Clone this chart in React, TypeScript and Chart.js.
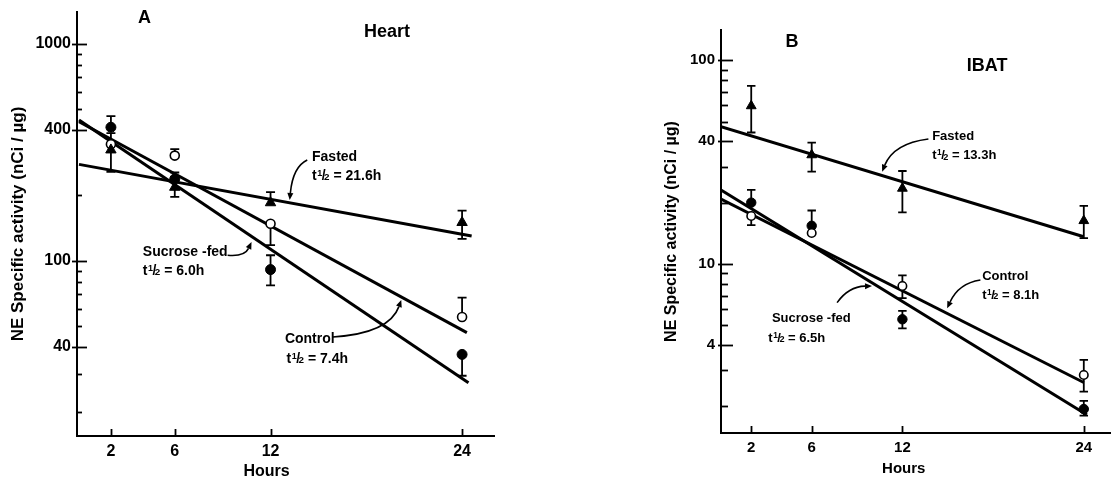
import React, { useEffect, useRef } from 'react';
import { Chart, registerables } from 'chart.js';

Chart.register(...registerables);

const FONT = '"Liberation Sans", Arial, Helvetica, sans-serif';

// ---------- shared ----------
const hours = [2, 6, 12, 24];
const xTickValues = [2, 6, 12, 24];

// ---------- Panel A: Heart ----------
const heartYTicks = [1000, 400, 100, 40];
const heartYMinor = [900, 800, 700, 600, 500, 200, 90, 80, 70, 60, 50, 30, 20];

const heartControl = [344, 305, 148, 55];
const heartControlHi = [387, 327, null, 67.6];
const heartControlLo = [null, null, 118, null];

const heartSucrose = [412, 238, 91, 37];
const heartSucroseHi = [464, 255, 106, null];
const heartSucroseLo = [null, null, 77, 29.5];

const heartFasted = [324, 218, 185, 150];
const heartFastedHi = [null, null, 207, 170];
const heartFastedLo = [257, 197, null, 126];

const heartFastedFitX = [0, 24.6];
const heartFastedFitY = [278, 130];
const heartControlFitX = [0, 24.3];
const heartControlFitY = [437, 46.6];
const heartSucroseFitX = [0, 24.4];
const heartSucroseFitY = [445, 27.4];

// ---------- Panel B: IBAT ----------
const ibatYTicks = [100, 40, 10, 4];
const ibatYMinor = [90, 80, 70, 60, 50, 30, 20, 9, 8, 7, 6, 5, 3, 2];

const ibatControl = [17.2, 14.2, 7.8, 2.85];
const ibatControlHi = [null, null, 8.8, 3.38];
const ibatControlLo = [15.5, null, 6.8, 2.36];

const ibatSucrose = [20, 15.4, 5.35, 1.94];
const ibatSucroseHi = [23.1, 18.3, 5.88, 2.13];
const ibatSucroseLo = [null, null, 4.83, 1.8];

const ibatFasted = [59.7, 34.3, 23.5, 16.3];
const ibatFastedHi = [74.8, 39.4, 28.6, 19.3];
const ibatFastedLo = [44.2, 28.4, 17.9, 13.4];

const ibatFastedFitX = [0, 24];
const ibatFastedFitY = [47.2, 13.6];
const ibatControlFitX = [0, 24];
const ibatControlFitY = [20.8, 2.62];
const ibatSucroseFitX = [0, 24.2];
const ibatSucroseFitY = [23.1, 1.82];

type Series = {
  values: number[];
  hi: (number | null)[];
  lo: (number | null)[];
  style: 'open' | 'filled' | 'tri';
  fitX: number[];
  fitY: number[];
};

type Note = { kind: 'text' | 'half' | 'title'; text: string; h: number; v: number };
type Arrow = { from: [number, number]; ctrl: [number, number]; to: [number, number] };

type PanelDef = {
  id: string;
  canvasLeft: number;
  canvasW: number;
  left: number;
  right: number;
  top: number;
  bottom: number;
  xMin: number;
  xMax: number;
  yMin: number;
  yMax: number;
  yTicks: number[];
  yMinor: number[];
  series: Series[];
  notes: Note[];
  arrows: Arrow[];
  hoursAt: number;
  tickFont: number;
  titleFont: number;
  titlePad: number;
  noteFont: number;
  headFont: number;
  majorOut: number;
  majorIn: number;
  minorIn: number;
  scale: number;
};

const heart: PanelDef = {
  id: 'A',
  canvasLeft: 0,
  canvasW: 560,
  left: 77,
  right: 494,
  top: 12,
  bottom: 436,
  xMin: -0.125,
  xMax: 26,
  yMin: 15.57,
  yMax: 1400,
  yTicks: heartYTicks,
  yMinor: heartYMinor,
  series: [
    { values: heartFasted, hi: heartFastedHi, lo: heartFastedLo, style: 'tri', fitX: heartFastedFitX, fitY: heartFastedFitY },
    { values: heartControl, hi: heartControlHi, lo: heartControlLo, style: 'open', fitX: heartControlFitX, fitY: heartControlFitY },
    { values: heartSucrose, hi: heartSucroseHi, lo: heartSucroseLo, style: 'filled', fitX: heartSucroseFitX, fitY: heartSucroseFitY },
  ],
  notes: [
    { kind: 'title', text: 'A', h: 4.1, v: 1313 },
    { kind: 'title', text: 'Heart', h: 19.3, v: 1132 },
    { kind: 'text', text: 'Fasted', h: 14.6, v: 300.6 },
    { kind: 'half', text: '= 21.6h', h: 14.6, v: 245.6 },
    { kind: 'text', text: 'Sucrose -fed', h: 4.0, v: 109.7 },
    { kind: 'half', text: '= 6.0h', h: 4.0, v: 89.7 },
    { kind: 'text', text: 'Control', h: 12.9, v: 43.6 },
    { kind: 'half', text: '= 7.4h', h: 13.0, v: 35.2 },
  ],
  arrows: [
    { from: [14.3, 291], ctrl: [13.4, 271], to: [13.2, 190.5] },
    { from: [9.31, 106], ctrl: [10.375, 104.3], to: [10.81, 121.9] },
    { from: [15.9, 44.5], ctrl: [19.44, 46.3], to: [20.19, 65.9] },
  ],
  hoursAt: 11.75,
  tickFont: 16,
  titleFont: 17,
  titlePad: 8,
  noteFont: 14,
  headFont: 18,
  majorOut: 5,
  majorIn: 10,
  minorIn: 5,
  scale: 1,
};

const ibat: PanelDef = {
  id: 'B',
  canvasLeft: 640,
  canvasW: 471,
  left: 81,
  right: 471,
  top: 30,
  bottom: 433,
  xMin: 0,
  xMax: 25.8,
  yMin: 1.48,
  yMax: 140.8,
  yTicks: ibatYTicks,
  yMinor: ibatYMinor,
  series: [
    { values: ibatFasted, hi: ibatFastedHi, lo: ibatFastedLo, style: 'tri', fitX: ibatFastedFitX, fitY: ibatFastedFitY },
    { values: ibatControl, hi: ibatControlHi, lo: ibatControlLo, style: 'open', fitX: ibatControlFitX, fitY: ibatControlFitY },
    { values: ibatSucrose, hi: ibatSucroseHi, lo: ibatSucroseLo, style: 'filled', fitX: ibatSucroseFitX, fitY: ibatSucroseFitY },
  ],
  notes: [
    { kind: 'title', text: 'B', h: 4.7, v: 123.4 },
    { kind: 'title', text: 'IBAT', h: 17.6, v: 94.1 },
    { kind: 'text', text: 'Fasted', h: 13.97, v: 42.2 },
    { kind: 'half', text: '= 13.3h', h: 13.97, v: 34.0 },
    { kind: 'text', text: 'Control', h: 17.28, v: 8.73 },
    { kind: 'half', text: '= 8.1h', h: 17.28, v: 7.04 },
    { kind: 'text', text: 'Sucrose -fed', h: 3.37, v: 5.41 },
    { kind: 'half', text: '= 6.5h', h: 3.13, v: 4.33 },
  ],
  arrows: [
    { from: [13.72, 41.1], ctrl: [11.42, 39.1], to: [10.66, 28.4] },
    { from: [17.16, 8.34], ctrl: [15.73, 8.04], to: [14.96, 6.06] },
    { from: [7.68, 6.46], ctrl: [8.44, 7.74], to: [9.99, 7.8] },
  ],
  hoursAt: 12.09,
  tickFont: 15,
  titleFont: 16,
  titlePad: 22,
  noteFont: 13,
  headFont: 18,
  majorOut: 3,
  majorIn: 12,
  minorIn: 7,
  scale: 0.94,
};

function font(size: number) {
  return `bold ${size}px ${FONT}`;
}

function drawHalf(ctx: CanvasRenderingContext2D, x: number, y: number, size: number, rest: string) {
  ctx.textAlign = 'left';
  ctx.textBaseline = 'middle';
  ctx.font = font(size);
  ctx.fillText('t', x, y);
  let cx = x + ctx.measureText('t').width + 0.5;
  const small = size * 0.64;
  ctx.font = font(small);
  ctx.fillText('1', cx, y - size * 0.2);
  cx += ctx.measureText('1').width - 0.5;
  ctx.font = font(size);
  ctx.fillText('/', cx, y);
  cx += ctx.measureText('/').width - 1.5;
  ctx.font = font(small * 1.1);
  ctx.fillText('2', cx, y + size * 0.1);
  cx += ctx.measureText('2').width;
  ctx.font = font(size);
  ctx.fillText(' ' + rest, cx, y);
}

function makePlugin(p: PanelDef) {
  return {
    id: 'decor' + p.id,
    beforeDatasetsDraw(chart: any) {
      const ctx = chart.ctx as CanvasRenderingContext2D;
      const xs = chart.scales.x;
      const ys = chart.scales.y;
      ctx.save();
      ctx.strokeStyle = '#000';
      ctx.lineWidth = 1.8;
      const cap = 4.5 * p.scale;
      for (const s of p.series) {
        s.values.forEach((v, i) => {
          const x = xs.getPixelForValue(hours[i]);
          const y0 = ys.getPixelForValue(v);
          for (const e of [s.hi[i], s.lo[i]]) {
            if (e == null) continue;
            const y1 = ys.getPixelForValue(e);
            ctx.beginPath();
            ctx.moveTo(x, y0);
            ctx.lineTo(x, y1);
            ctx.moveTo(x - cap, y1);
            ctx.lineTo(x + cap, y1);
            ctx.stroke();
          }
        });
      }
      ctx.restore();
    },
    afterDraw(chart: any) {
      const ctx = chart.ctx as CanvasRenderingContext2D;
      const xs = chart.scales.x;
      const ys = chart.scales.y;
      const area = chart.chartArea;
      ctx.save();
      ctx.strokeStyle = '#000';
      ctx.fillStyle = '#000';
      // y tick marks
      ctx.lineWidth = 1.8;
      for (const v of p.yTicks) {
        const y = Math.round(ys.getPixelForValue(v)) + 0.5;
        ctx.beginPath();
        ctx.moveTo(area.left - p.majorOut, y);
        ctx.lineTo(area.left + p.majorIn, y);
        ctx.stroke();
      }
      for (const v of p.yMinor) {
        const y = Math.round(ys.getPixelForValue(v)) + 0.5;
        ctx.beginPath();
        ctx.moveTo(area.left, y);
        ctx.lineTo(area.left + p.minorIn, y);
        ctx.stroke();
      }
      // x tick marks
      for (const h of xTickValues) {
        const x = Math.round(xs.getPixelForValue(h)) + 0.5;
        ctx.beginPath();
        ctx.moveTo(x, area.bottom);
        ctx.lineTo(x, area.bottom - 7);
        ctx.stroke();
      }
      // x axis title
      ctx.font = font(p.tickFont);
      ctx.textAlign = 'center';
      ctx.textBaseline = 'middle';
      ctx.fillText('Hours', xs.getPixelForValue(p.hoursAt), area.bottom + 36);
      // notes
      for (const n of p.notes) {
        const x = xs.getPixelForValue(n.h);
        const y = ys.getPixelForValue(n.v);
        if (n.kind === 'title') {
          ctx.font = font(p.headFont);
          ctx.textAlign = 'center';
          ctx.textBaseline = 'middle';
          ctx.fillText(n.text, x, y);
        } else if (n.kind === 'text') {
          ctx.font = font(p.noteFont);
          ctx.textAlign = 'left';
          ctx.textBaseline = 'middle';
          ctx.fillText(n.text, x, y);
        } else {
          drawHalf(ctx, x, y, p.noteFont, n.text);
        }
      }
      // arrows
      ctx.lineWidth = 1.6;
      for (const a of p.arrows) {
        const x0 = xs.getPixelForValue(a.from[0]);
        const y0 = ys.getPixelForValue(a.from[1]);
        const cx = xs.getPixelForValue(a.ctrl[0]);
        const cy = ys.getPixelForValue(a.ctrl[1]);
        const x1 = xs.getPixelForValue(a.to[0]);
        const y1 = ys.getPixelForValue(a.to[1]);
        const ang = Math.atan2(y1 - cy, x1 - cx);
        const L = 7;
        const W = 3;
        const bx = x1 - L * Math.cos(ang);
        const by = y1 - L * Math.sin(ang);
        ctx.beginPath();
        ctx.moveTo(x0, y0);
        ctx.quadraticCurveTo(cx, cy, bx, by);
        ctx.stroke();
        ctx.beginPath();
        ctx.moveTo(x1, y1);
        ctx.lineTo(bx + W * Math.sin(ang), by - W * Math.cos(ang));
        ctx.lineTo(bx - W * Math.sin(ang), by + W * Math.cos(ang));
        ctx.closePath();
        ctx.fill();
      }
      ctx.restore();
    },
  };
}

function makeConfig(p: PanelDef): any {
  const lineSets = p.series.map((s) => ({
    data: s.fitX.map((x, i) => ({ x, y: s.fitY[i] })),
    showLine: true,
    borderColor: '#000',
    borderWidth: 3,
    pointRadius: 0,
    order: 2,
  }));
  const pointSets = p.series.map((s) => ({
    data: hours.map((h, i) => ({ x: h, y: s.values[i] })),
    showLine: false,
    pointStyle: s.style === 'tri' ? 'triangle' : 'circle',
    pointRadius: (s.style === 'tri' ? 6 : s.style === 'open' ? 4.5 : 5) * p.scale,
    backgroundColor: s.style === 'open' ? '#fff' : '#000',
    borderColor: '#000',
    borderWidth: s.style === 'open' ? 1.6 : 1,
    order: 1,
  }));
  return {
    type: 'scatter',
    data: { datasets: [...lineSets, ...pointSets] },
    options: {
      responsive: false,
      animation: false,
      events: [],
      layout: { autoPadding: false, padding: { left: 0, top: p.top, right: p.canvasW - p.right, bottom: 0 } },
      plugins: { legend: { display: false }, tooltip: { enabled: false } },
      scales: {
        x: {
          type: 'linear',
          min: p.xMin,
          max: p.xMax,
          bounds: 'data',
          grid: { display: false, drawTicks: false },
          border: { display: true, width: 2, color: '#000' },
          ticks: {
            color: '#000',
            font: { family: FONT, size: p.tickFont, weight: 'bold' },
            padding: 6,
            autoSkip: false,
            maxRotation: 0,
            callback: (v: any) => String(v),
          },
          afterBuildTicks: (s: any) => {
            s.ticks = xTickValues.map((value) => ({ value }));
          },
          afterFit: (s: any) => {
            s.height = 480 - p.bottom;
            s.paddingLeft = 0;
            s.paddingRight = 0;
          },
        },
        y: {
          type: 'logarithmic',
          min: p.yMin,
          max: p.yMax,
          bounds: 'data',
          grid: { display: false, drawTicks: false },
          border: { display: true, width: 2, color: '#000' },
          ticks: {
            color: '#000',
            font: { family: FONT, size: p.tickFont, weight: 'bold' },
            padding: 6,
            autoSkip: false,
            callback: (v: any) => String(v),
          },
          title: {
            display: true,
            text: 'NE Specific activity (nCi / µg)',
            color: '#000',
            font: { family: FONT, size: p.titleFont, weight: 'bold' },
            padding: { top: p.titlePad, bottom: 0 },
          },
          afterBuildTicks: (s: any) => {
            s.ticks = p.yTicks.map((value) => ({ value }));
          },
          afterFit: (s: any) => {
            s.width = p.left;
            s.paddingTop = 0;
            s.paddingBottom = 0;
          },
        },
      },
    },
    plugins: [makePlugin(p)],
  };
}

function Panel({ p }: { p: PanelDef }) {
  const ref = useRef<HTMLCanvasElement>(null);
  useEffect(() => {
    const chart = new Chart(ref.current as HTMLCanvasElement, makeConfig(p));
    return () => chart.destroy();
  }, [p]);
  return (
    <canvas
      ref={ref}
      width={p.canvasW}
      height={480}
      style={{ position: 'absolute', left: p.canvasLeft, top: 0, width: p.canvasW, height: 480 }}
    />
  );
}

export default function App() {
  return (
    <div style={{ position: 'absolute', left: 0, top: 0, width: 1111, height: 480, background: '#fff', overflow: 'hidden' }}>
      <Panel p={heart} />
      <Panel p={ibat} />
    </div>
  );
}
